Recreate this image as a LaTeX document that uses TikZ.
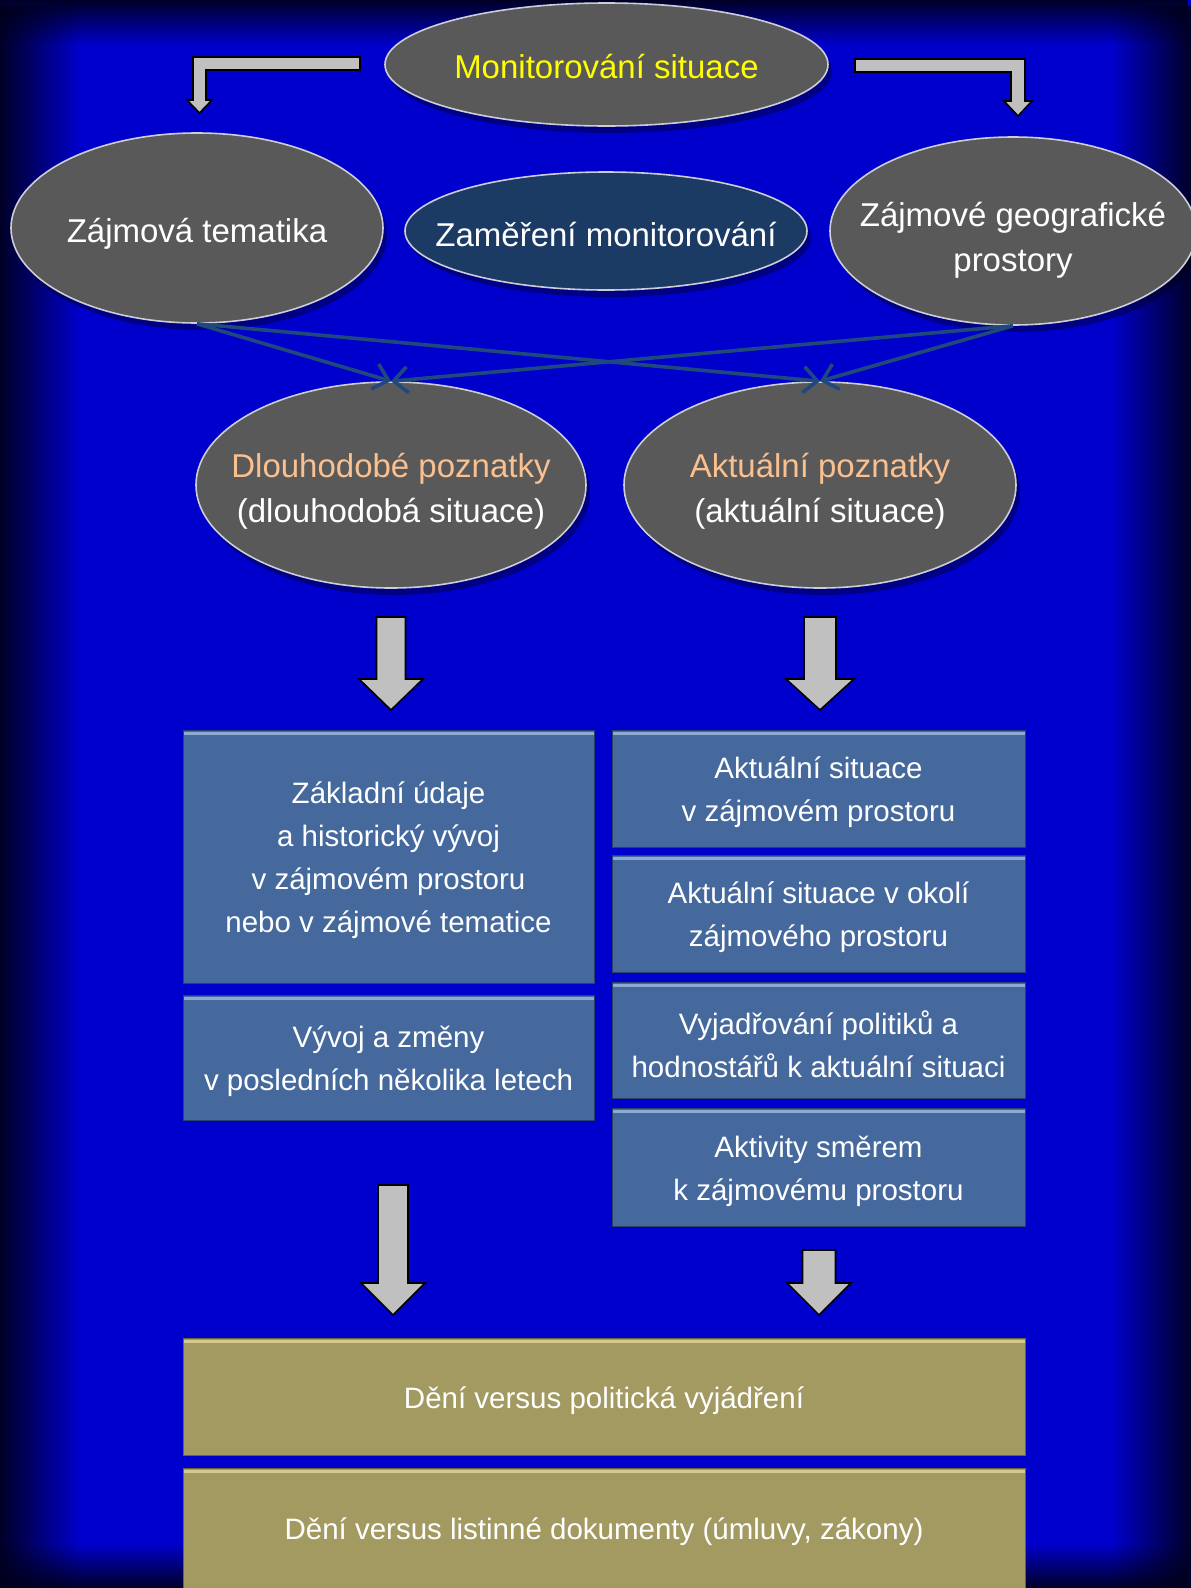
\documentclass[tikz,border=0pt]{standalone}
\usepackage{fontspec}
\setmainfont{Liberation Sans}
\usetikzlibrary{shapes.geometric,shadows,arrows.meta,fadings}
\definecolor{bgA}{RGB}{0,0,205}
\definecolor{bgD}{RGB}{0,0,25}
\definecolor{ellgray}{RGB}{89,89,89}
\definecolor{ellnavy}{RGB}{27,58,100}
\definecolor{ellborder}{RGB}{205,205,215}
\definecolor{boxblue}{RGB}{69,105,157}
\definecolor{boxhi}{RGB}{140,170,212}
\definecolor{boxlo}{RGB}{40,65,105}
\definecolor{olive}{RGB}{163,154,98}
\definecolor{olivehi}{RGB}{212,202,142}
\definecolor{olivelo}{RGB}{110,100,60}
\definecolor{conncol}{RGB}{31,73,125}
\definecolor{arrowgray}{RGB}{192,192,192}
\definecolor{peach}{RGB}{250,192,143}
\definecolor{yell}{RGB}{255,255,0}
\newcommand{\myblockdown}[6]{%
  \draw[blockarrow] ({#1-#5},#2) -- ({#1+#5},#2) -- ({#1+#5},#3) -- ({#1+#6},#3) -- (#1,#4) -- ({#1-#6},#3) -- ({#1-#5},#3) -- cycle;}
\tikzset{
  ellbase/.style={ellipse, draw=ellborder, line width=1.6pt, inner sep=0pt,
    drop shadow={shadow xshift=4pt, shadow yshift=-7pt, opacity=0.35, fill=black}},
  ellg/.style={ellbase, fill=ellgray},
  elln/.style={ellbase, fill=ellnavy},
  etxt/.style={align=center, text=white, inner sep=0pt, yshift=-6pt, font=\fontsize{33}{45}\selectfont},
  bbox/.style={rectangle, fill=boxblue, draw=boxlo, line width=1pt, inner sep=0pt,
    path picture={\fill[boxhi] ([yshift=-2pt]path picture bounding box.north west) rectangle ([yshift=-5pt]path picture bounding box.north east);}},
  obox/.style={rectangle, fill=olive, draw=olivelo, line width=1pt, inner sep=0pt,
    path picture={\fill[olivehi] ([yshift=-2pt]path picture bounding box.north west) rectangle ([yshift=-5pt]path picture bounding box.north east);}},
  btxt/.style={align=center, text=white, inner sep=0pt, yshift=-4pt, font=\fontsize{29.5}{43}\selectfont},
  blockarrow/.style={fill=arrowgray, draw=black, line width=1.6pt, line join=miter},
  conn/.style={draw=conncol, line width=3.6pt, -{Straight Barb[length=14pt,width=26pt]}},
  edgeband/.style={fill=bgD, fill opacity=0.92}
}
\begin{document}
\begin{tikzpicture}[x=1pt,y=-1pt]
\useasboundingbox (0,0) rectangle (1191,1588);
\fill[bgA] (0,0) rectangle (1191,1588);
\fill[edgeband, path fading=east] (0,0) rectangle (80,1588);
\fill[edgeband, path fading=west] (1111,0) rectangle (1191,1588);
\fill[edgeband, path fading=south] (0,0) rectangle (1191,45);
\fill[edgeband, path fading=north] (0,1543) rectangle (1191,1588);

% top ellipse
\node[ellg, minimum width=443pt, minimum height=123pt] (ms) at (606.5,64.5) {};
\node[etxt, text=yell, yshift=4pt] (mst) at (ms.center) {Monitorování situace};

% bent arrows
\draw[blockarrow] (360,57) -- (360,70) -- (206,70) -- (206,100) -- (212,100) -- (199.5,113) -- (187,100) -- (193,100) -- (193,57) -- cycle;
\draw[blockarrow] (855,59) -- (1025,59) -- (1025,101) -- (1032,101) -- (1018,116) -- (1004,101) -- (1011,101) -- (1011,72) -- (855,72) -- cycle;

% second row ellipses
\node[ellg, minimum width=372pt, minimum height=190pt] (zt) at (197,228) {};
\node[etxt] (ztt) at (zt.center) {Zájmová tematika};
\node[elln, minimum width=402pt, minimum height=118pt] (zm) at (606,231) {};
\node[etxt, yshift=2pt] (zmt) at (zm.center) {Zaměření monitorování};
\node[ellg, minimum width=366pt, minimum height=188pt] (zg) at (1013,231) {};
\node[etxt, yshift=-3pt] (zgt) at (zg.center) {Zájmové geografické\\prostory};

% third row ellipses
\node[ellg, minimum width=390pt, minimum height=206pt] (dp) at (391,485) {};
\node[etxt] (dpt) at (dp.center) {\textcolor{peach}{Dlouhodobé poznatky}\\(dlouhodobá situace)};
\node[ellg, minimum width=392pt, minimum height=206pt] (ap) at (820,485) {};
\node[etxt] (apt) at (ap.center) {\textcolor{peach}{Aktuální poznatky}\\(aktuální situace)};

% connectors
\draw[conn] (zt.south) -- (dp.north);
\draw[conn] (zt.south) -- (ap.north);
\draw[conn] (zg.south) -- (dp.north);
\draw[conn] (zg.south) -- (ap.north);

% down arrows
\myblockdown{391}{617}{679}{710}{14.5}{32}
\myblockdown{820}{617}{679}{710}{16}{34}

% blue boxes
\node[bbox, minimum width=411pt, minimum height=253pt] (l1) at (388.5,856.5) {};
\node[btxt] (l1t) at (l1.center) {Základní údaje\\a historický vývoj\\v zájmovém prostoru\\nebo v zájmové tematice};
\node[bbox, minimum width=411pt, minimum height=125pt] (l2) at (388.5,1057.5) {};
\node[btxt] (l2t) at (l2.center) {Vývoj a změny\\v posledních několika letech};
\node[bbox, minimum width=413pt, minimum height=117pt] (r1) at (818.5,788.5) {};
\node[btxt] (r1t) at (r1.center) {Aktuální situace\\v zájmovém prostoru};
\node[bbox, minimum width=413pt, minimum height=117pt] (r2) at (818.5,913.5) {};
\node[btxt] (r2t) at (r2.center) {Aktuální situace v okolí\\zájmového prostoru};
\node[bbox, minimum width=413pt, minimum height=116pt] (r3) at (818.5,1040) {};
\node[btxt] (r3t) at (r3.center) {Vyjadřování politiků a\\hodnostářů k aktuální situaci};
\node[bbox, minimum width=413pt, minimum height=118pt] (r4) at (818.5,1167) {};
\node[btxt] (r4t) at (r4.center) {Aktivity směrem\\k zájmovému prostoru};

% lower down arrows
\myblockdown{393}{1185}{1283}{1315}{15}{32}
\myblockdown{819}{1250}{1283}{1315}{16.5}{32}

% olive boxes
\node[obox, minimum width=842pt, minimum height=117pt] (o1) at (604,1396.5) {};
\node[btxt] (o1t) at (o1.center) {Dění versus politická vyjádření};
\node[obox, minimum width=842pt, minimum height=120pt] (o2) at (604,1528) {};
\node[btxt] (o2t) at (o2.center) {Dění versus listinné dokumenty (úmluvy, zákony)};
\end{tikzpicture}
\end{document}
